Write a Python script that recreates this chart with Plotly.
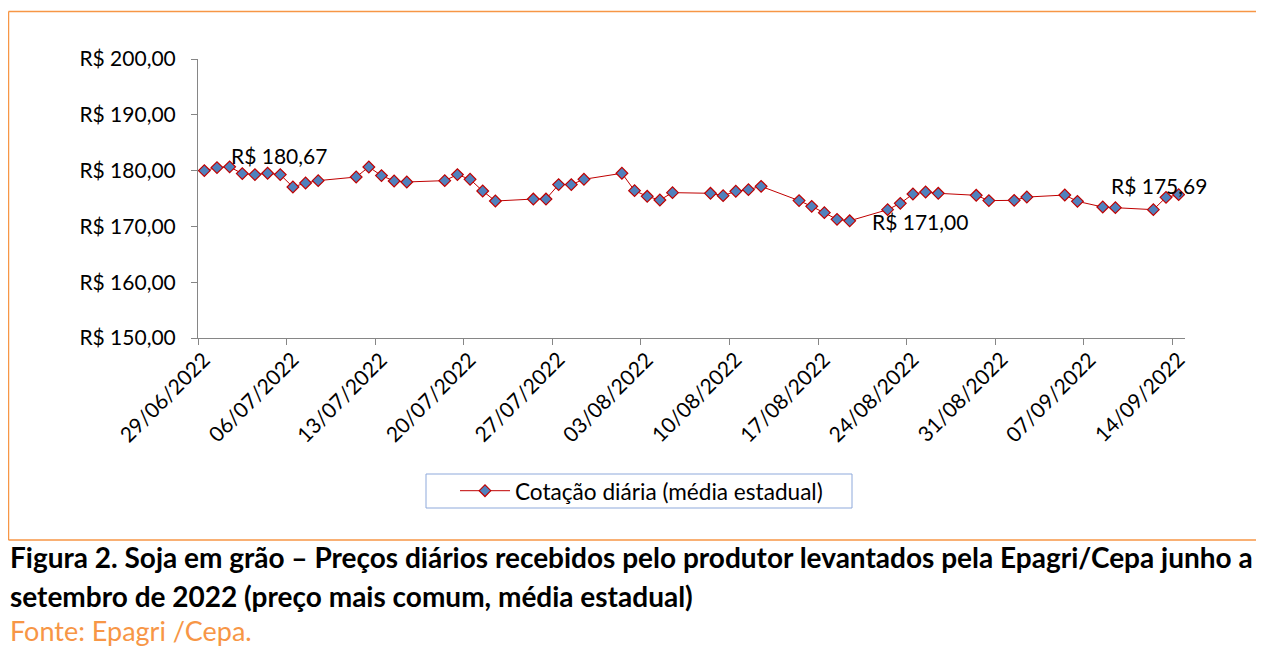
import plotly.graph_objects as go
import pandas as pd

# ---- data ----
start_date = "2022-06-29"
end_date = "2022-09-15"
day_offsets = [0, 1, 2, 3, 4, 5, 6, 7, 8, 9, 12, 13, 14, 15, 16, 19, 20, 21, 22, 23,
               26, 27, 28, 29, 30, 33, 34, 35, 36, 37, 40, 41, 42, 43, 44, 47, 48, 49, 50, 51,
               54, 55, 56, 57, 58, 61, 62, 64, 65, 68, 69, 71, 72, 75, 76, 77]
prices = [180.00, 180.54, 180.67, 179.46, 179.28, 179.52, 179.28, 177.06, 177.78, 178.20,
          178.85, 180.65, 179.10, 178.14, 177.96, 178.20, 179.28, 178.44, 176.34, 174.55,
          174.90, 174.90, 177.49, 177.49, 178.44, 179.52, 176.41, 175.39, 174.73, 176.05,
          175.93, 175.51, 176.29, 176.59, 177.18, 174.62, 173.59, 172.46, 171.26, 171.00,
          173.00, 174.13, 175.80, 176.16, 175.93, 175.57, 174.62, 174.67, 175.26, 175.62,
          174.49, 173.47, 173.36, 173.00, 175.21, 175.69]
labeled_idx = [2, 39, 55]
series_name = "Cotação diária (média estadual)"
y_tick_vals = [150, 160, 170, 180, 190, 200]
y_tick_text = ["R$ 150,00", "R$ 160,00", "R$ 170,00", "R$ 180,00", "R$ 190,00", "R$ 200,00"]
x_tick_dates = ["2022-06-29", "2022-07-06", "2022-07-13", "2022-07-20", "2022-07-27", "2022-08-03",
                "2022-08-10", "2022-08-17", "2022-08-24", "2022-08-31", "2022-09-07", "2022-09-14"]
x_tick_text = ["29/06/2022", "06/07/2022", "13/07/2022", "20/07/2022", "27/07/2022", "03/08/2022",
               "10/08/2022", "17/08/2022", "24/08/2022", "31/08/2022", "07/09/2022", "14/09/2022"]
caption_lines = ["Figura 2. Soja em grão – Preços diários recebidos pelo produtor levantados pela Epagri/Cepa junho a",
                 "setembro de 2022 (preço mais comum, média estadual)"]
source_text = "Fonte: Epagri /Cepa."

base = pd.Timestamp(start_date)
dates = [base + pd.Timedelta(days=d, hours=12) for d in day_offsets]

def brl(v):
    return "R$ " + f"{v:.2f}".replace(".", ",")

FONT = "Lato"
OFF = 8  # page body margin
W, H = 1264 - OFF, 646 - OFF
PL, PR, PT, PB = 198, 1185, 59, 338  # plot area in page pixels
L, R, T, B = PL - OFF, (W + OFF) - PR, PT - OFF, (H + OFF) - PB

def px(xp):
    return (xp - PL) / (PR - PL)

def py(yp):
    return (PB - yp) / (PB - PT)

fig = go.Figure()
fig.add_trace(go.Scatter(
    x=dates, y=prices, mode="lines+markers", name=series_name,
    line=dict(color="#C00000", width=1),
    marker=dict(symbol="diamond", size=9, color="#4F81BD",
                line=dict(color="#C00000", width=1.2)),
))

# data labels
label_cfg = {2: ("left", -1, 11), 39: ("left", 20, -1), 55: ("center", -20, 9)}
for i in labeled_idx:
    xa, dx, dy = label_cfg[i]
    fig.add_annotation(x=dates[i], y=prices[i], text=brl(prices[i]), showarrow=False,
                       xanchor=xa, yanchor="middle", xshift=dx, yshift=dy,
                       font=dict(family=FONT, size=21, color="#000000"))

# rotated date tick labels
for d, t in zip(x_tick_dates, x_tick_text):
    fig.add_annotation(x=pd.Timestamp(d), xref="x", y=0, yref="paper", text=t,
                       textangle=-45, showarrow=False, xanchor="right", yanchor="top",
                       xshift=19, yshift=-6,
                       font=dict(family=FONT, size=21, color="#000000"))

# captions
cap_y = [557, 596]
for txt, yy in zip(caption_lines, cap_y):
    fig.add_annotation(xref="paper", yref="paper", x=px(8), y=py(yy),
                       text="<b>" + txt + "</b>", showarrow=False,
                       xanchor="left", yanchor="middle",
                       font=dict(family=FONT, size=28, color="#000000"))
fig.add_annotation(xref="paper", yref="paper", x=px(8), y=py(630),
                   text=source_text, showarrow=False, xanchor="left", yanchor="middle",
                   font=dict(family=FONT, size=27, color="#F79646"))

# orange frame
orange = dict(color="#F79646", width=1.5)
fig.add_shape(type="line", xref="paper", yref="paper",
              x0=px(8.5), x1=px(8.5), y0=py(540), y1=py(11.5), line=orange)
fig.add_shape(type="line", xref="paper", yref="paper",
              x0=px(8.5), x1=px(1275), y0=py(11.5), y1=py(11.5), line=orange)
fig.add_shape(type="line", xref="paper", yref="paper",
              x0=px(8.5), x1=px(1275), y0=py(540), y1=py(540), line=orange)

# legend frame
fig.add_shape(type="rect", xref="paper", yref="paper",
              x0=px(426), x1=px(852), y0=py(508), y1=py(474),
              line=dict(color="#8EA9DB", width=1), fillcolor="rgba(0,0,0,0)", layer="below")

fig.update_layout(
    width=W, height=H,
    margin=dict(l=L, r=R, t=T, b=B, autoexpand=False),
    paper_bgcolor="white", plot_bgcolor="white",
    font=dict(family=FONT, color="#000000"),
    showlegend=True,
    legend=dict(x=px(455), xanchor="left", y=py(491), yanchor="middle",
                borderwidth=0, bgcolor="rgba(0,0,0,0)",
                font=dict(family=FONT, size=22.6, color="#000000"),
                itemwidth=50, tracegroupgap=0),
    xaxis=dict(type="date", range=[start_date, end_date],
               tickvals=[pd.Timestamp(d) for d in x_tick_dates], showticklabels=False,
               ticks="outside", ticklen=6, tickcolor="#868686",
               showline=True, linecolor="#868686", linewidth=1, showgrid=False,
               zeroline=False),
    yaxis=dict(range=[150, 200], tickvals=y_tick_vals, ticktext=y_tick_text,
               ticks="outside", ticklen=6, tickcolor="#868686",
               showline=True, linecolor="#868686", linewidth=1, showgrid=False,
               zeroline=False, ticklabelstandoff=11,
               tickfont=dict(family=FONT, size=21, color="#000000")),
)

fig.write_html("out.html")
